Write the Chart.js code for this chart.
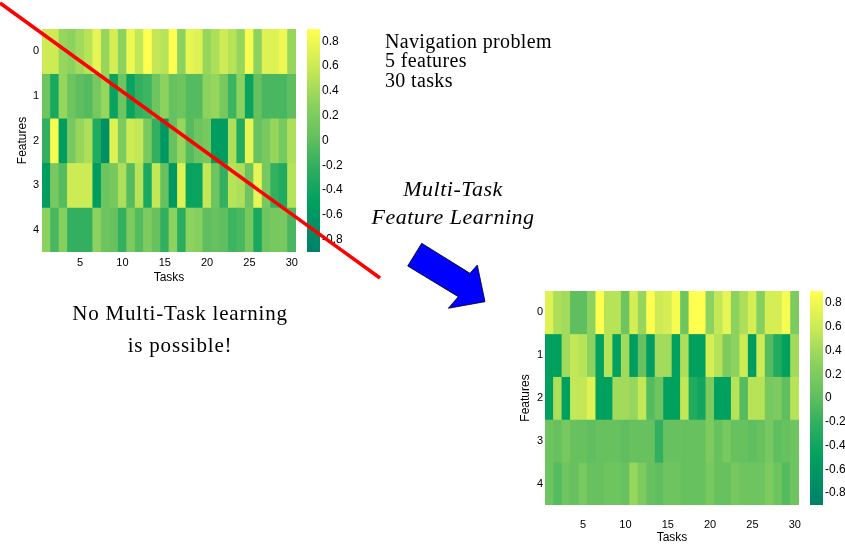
<!DOCTYPE html>
<html>
<head>
<meta charset="utf-8">
<script src="https://cdn.jsdelivr.net/npm/chart.js@4.4.0/dist/chart.umd.min.js"></script>
<style>
  body { margin: 0; background: #fff; width: 845px; height: 545px; overflow: hidden; position: relative; }
  canvas { position: absolute; }
  svg { position: absolute; left: 0; top: 0; }
  svg text { font-family: "Liberation Serif", "Times New Roman", serif; fill: #000; }
</style>
</head>
<body>
<canvas id="heat1" width="300" height="285" style="left:0;top:0"></canvas>
<canvas id="bar1" width="50" height="285" style="left:300px;top:0"></canvas>
<canvas id="heat2" width="310" height="285" style="left:500px;top:260px"></canvas>
<canvas id="bar2" width="45" height="285" style="left:800px;top:260px"></canvas>

<svg width="845" height="545">
  <text x="385" y="47.5" font-size="20" letter-spacing="0.35">Navigation problem</text>
  <text x="385" y="67" font-size="20" letter-spacing="0.35">5 features</text>
  <text x="385" y="86.5" font-size="20" letter-spacing="0.35">30 tasks</text>

  <text x="453" y="196" font-size="22" font-style="italic" letter-spacing="0.5" text-anchor="middle">Multi-Task</text>
  <text x="453" y="224" font-size="22" font-style="italic" letter-spacing="0.5" text-anchor="middle">Feature Learning</text>

  <text x="180" y="320" font-size="21" letter-spacing="0.8" text-anchor="middle">No Multi-Task learning</text>
  <text x="180" y="352" font-size="21" letter-spacing="0.8" text-anchor="middle">is possible!</text>

  <line x1="0" y1="3" x2="380" y2="278" stroke="#ff0000" stroke-width="3.5"/>
  <polygon points="421.7,243.3 470,273.3 477.3,265 485,301.7 448.3,308.3 458.3,296.7 407.7,266"
           fill="#0000ff" stroke="#000" stroke-width="0.8"/>
</svg>

<script>
// tasks (columns) and features (rows)
const tasks = ['1','2','3','4','5','6','7','8','9','10','11','12','13','14','15',
               '16','17','18','19','20','21','22','23','24','25','26','27','28','29','30'];
const featureLabels = ['0', '1', '2', '3', '4'];
const colorbarTicks = [-0.8, -0.6, -0.4, -0.2, 0, 0.2, 0.4, 0.6, 0.8];

// independent learning (top-left heatmap), one array per feature
const indepF0 = [0.6, 0.6, 0.35, 0.3, 0.4, 0.5, 0.75, 0.35, 0.65, 0.3, 0.8, 0.55, 0.9, 0.55, 0.5,
                 0.9, 0.3, 0.75, 0.7, 0.35, 0.45, 0.6, 0.5, 0.35, 0.85, 0.3, 0.7, 0.7, 0.8, 0.35];
const indepF1 = [0.1, -0.35, 0.35, 0.1, 0.0, -0.05, 0.15, 0.35, -0.45, 0.1, -0.45, -0.2, -0.15, 0.1, 0.3,
                 0.05, 0.1, -0.05, -0.05, 0.3, 0.35, 0.15, -0.15, 0.3, -0.45, 0.05, -0.1, -0.1, -0.1, 0.0];
const indepF2 = [-0.2, 0.85, -0.55, 0.15, 0.35, 0.45, -0.3, -0.7, 0.7, 0.2, 0.6, 0.55, 0.15, -0.2, -0.6,
                 0.05, 0.35, -0.05, 0.1, 0.15, -0.55, -0.55, 0.45, -0.3, 0.75, 0.05, 0.15, 0.35, 0.15, 0.45];
const indepF3 = [-0.55, 0.15, -0.05, 0.6, 0.6, 0.6, -0.55, 0.1, 0.15, 0.45, -0.05, 0.5, -0.35, 0.55, 0.05,
                 -0.6, 0.7, -0.45, -0.45, 0.55, 0.1, -0.2, 0.5, 0.45, 0.1, 0.75, 0.15, -0.2, -0.3, 0.5];
const indepF4 = [0.3, -0.1, 0.25, -0.2, -0.2, -0.2, 0.3, 0.1, 0.05, -0.2, 0.2, -0.05, 0.2, 0.05, -0.2,
                 0.3, -0.25, 0.3, 0.25, 0.0, 0.05, 0.0, -0.15, -0.1, 0.15, -0.35, 0.1, 0.15, 0.15, -0.1];

// multi-task feature learning (bottom-right heatmap)
const mtlF0 = [0.7, 0.45, 0.4, 0.0, 0.0, 0.3, 0.9, 0.5, 0.5, 0.1, 0.65, 0.35, 0.9, 0.6, 0.65,
               0.85, 0.1, 0.9, 0.9, 0.3, 0.55, 0.75, 0.3, 0.45, 0.65, 0.25, 0.65, 0.65, 0.85, 0.2];
const mtlF1 = [-0.5, -0.5, 0.4, 0.55, 0.5, 0.3, -0.5, 0.5, -0.5, 0.4, -0.55, 0.05, -0.55, 0.4, 0.4,
               -0.5, 0.45, -0.5, -0.5, 0.65, 0.5, 0.2, 0.3, 0.6, -0.55, 0.6, -0.05, -0.3, -0.5, 0.4];
const mtlF2 = [-0.5, 0.45, -0.5, 0.55, 0.55, 0.7, -0.5, -0.5, 0.4, 0.4, 0.35, 0.55, -0.05, 0.1, -0.5,
               -0.5, 0.55, -0.3, -0.4, 0.2, -0.5, -0.5, 0.5, -0.05, 0.5, 0.5, 0.15, 0.2, 0.0, 0.5];
const mtlF3 = [0.1, 0.05, 0.15, 0.05, 0.05, 0.0, 0.05, 0.05, 0.05, 0.0, 0.05, 0.05, 0.05, -0.2, 0.05,
               0.05, 0.05, 0.05, 0.05, 0.2, 0.05, 0.15, 0.05, 0.05, 0.0, 0.05, 0.15, 0.0, 0.05, 0.1];
const mtlF4 = [0.1, -0.05, 0.1, 0.05, 0.15, 0.05, 0.05, 0.1, 0.1, 0.05, 0.35, 0.2, 0.05, 0.0, 0.1,
               0.1, 0.05, 0.05, 0.05, 0.15, 0.05, 0.05, 0.15, 0.1, 0.1, 0.1, 0.2, 0.1, -0.05, 0.1];

// colour scale, from -0.9 (teal) to 0.9 (yellow)
const cmapStops = [
  [-0.9, [0, 128, 105]],
  [-0.5, [0, 160, 95]],
  [-0.2, [50, 176, 95]],
  [0.0, [95, 190, 95]],
  [0.3, [140, 210, 95]],
  [0.6, [205, 235, 85]],
  [0.9, [255, 255, 80]]
];
const cMin = -0.9, cMax = 0.9;

function colorFor(v) {
  v = Math.max(cMin, Math.min(cMax, v));
  for (let i = 1; i < cmapStops.length; i++) {
    const [v1, c1] = cmapStops[i];
    const [v0, c0] = cmapStops[i - 1];
    if (v <= v1) {
      const t = (v - v0) / (v1 - v0);
      const c = c0.map((x, k) => Math.round(x + (c1[k] - x) * t));
      return `rgb(${c[0]},${c[1]},${c[2]})`;
    }
  }
  return 'rgb(255,255,80)';
}

Chart.defaults.font.family = '"Liberation Sans", Arial, Helvetica, sans-serif';
Chart.defaults.color = '#000';

// heatmap: 5 stacked rows of unit-height bars, coloured by the cell value
function makeHeatmap(id, rows, o) {
  const datasets = rows.map(row => ({
    data: row.map(() => 1),
    backgroundColor: row.map(colorFor),
    borderWidth: 0,
    barPercentage: 1,
    categoryPercentage: 1
  }));
  return new Chart(document.getElementById(id), {
    type: 'bar',
    data: { labels: tasks, datasets: datasets },
    options: {
      responsive: false,
      animation: false,
      layout: { padding: { left: 0, right: o.padRight, top: o.padTop, bottom: 0 } },
      plugins: { legend: { display: false }, tooltip: { enabled: false } },
      scales: {
        x: {
          stacked: true,
          grid: { display: false, drawTicks: false },
          border: { display: false },
          // fixed height, and no extra room for the edge labels
          afterFit: s => { s.height = o.xHeight; s.paddingLeft = 0; s.paddingRight = 0; },
          ticks: {
            autoSkip: false, maxRotation: 0, padding: o.xTickPad,
            font: { size: 11 },
            callback: (val, idx) => ((idx + 1) % 5 === 0 ? tasks[idx] : '')
          },
          title: { display: true, text: 'Tasks', font: { size: 12 }, padding: { top: 0, bottom: 0 } }
        },
        y: {
          stacked: true,
          reverse: true,
          min: 0,
          max: 5,
          grid: { display: false, drawTicks: false },
          border: { display: false },
          afterFit: s => { s.width = o.yWidth; s.paddingTop = 0; s.paddingBottom = 0; },
          afterBuildTicks: s => { s.ticks = featureLabels.map((f, i) => ({ value: i + 0.5 })); },
          ticks: {
            padding: o.yTickPad,
            font: { size: 11 },
            callback: v => featureLabels[Math.floor(v)]
          },
          title: { display: true, text: 'Features', font: { size: 12 }, padding: { top: o.yTitlePad, bottom: 0 } }
        }
      }
    }
  });
}

// colorbar: one floating bar from cMin to cMax filled with the colour scale
function makeColorbar(id, o) {
  return new Chart(document.getElementById(id), {
    type: 'bar',
    data: {
      labels: ['c'],
      datasets: [{
        data: [[cMin, cMax]],
        borderWidth: 0,
        barPercentage: 1,
        categoryPercentage: 1,
        backgroundColor: ctx => {
          const y = ctx.chart.scales.y;
          if (!y || !ctx.chart.chartArea) return colorFor(0);
          const top = y.getPixelForValue(cMax), bot = y.getPixelForValue(cMin);
          if (!Number.isFinite(top) || !Number.isFinite(bot)) return colorFor(0);
          const g = ctx.chart.ctx.createLinearGradient(0, bot, 0, top);
          cmapStops.forEach(([v]) => g.addColorStop((v - cMin) / (cMax - cMin), colorFor(v)));
          return g;
        }
      }]
    },
    options: {
      responsive: false,
      animation: false,
      layout: { padding: { left: o.padLeft, right: 0, top: o.padTop, bottom: o.padBottom } },
      plugins: { legend: { display: false }, tooltip: { enabled: false } },
      scales: {
        x: { display: false },
        y: {
          position: 'right',
          min: cMin,
          max: cMax,
          grid: { display: false, drawTicks: false },
          border: { display: false },
          afterFit: s => { s.width = o.yWidth; s.paddingTop = 0; s.paddingBottom = 0; },
          afterBuildTicks: s => { s.ticks = colorbarTicks.map(v => ({ value: v })); },
          ticks: {
            padding: 2,
            font: { size: 12 },
            callback: v => (Math.abs(v) < 1e-9 ? '0' : v.toFixed(1))
          }
        }
      }
    }
  });
}

makeHeatmap('heat1', [indepF0, indepF1, indepF2, indepF3, indepF4],
  { padTop: 29, padRight: 4, xHeight: 33, yWidth: 42, xTickPad: 4, yTickPad: 3, yTitlePad: 15 });
makeColorbar('bar1', { padLeft: 7, padTop: 29, padBottom: 33, yWidth: 30 });

makeHeatmap('heat2', [mtlF0, mtlF1, mtlF2, mtlF3, mtlF4],
  { padTop: 31, padRight: 11, xHeight: 40, yWidth: 45, xTickPad: 13, yTickPad: 2, yTitlePad: 18 });
makeColorbar('bar2', { padLeft: 10, padTop: 31, padBottom: 40, yWidth: 22 });
</script>
</body>
</html>
